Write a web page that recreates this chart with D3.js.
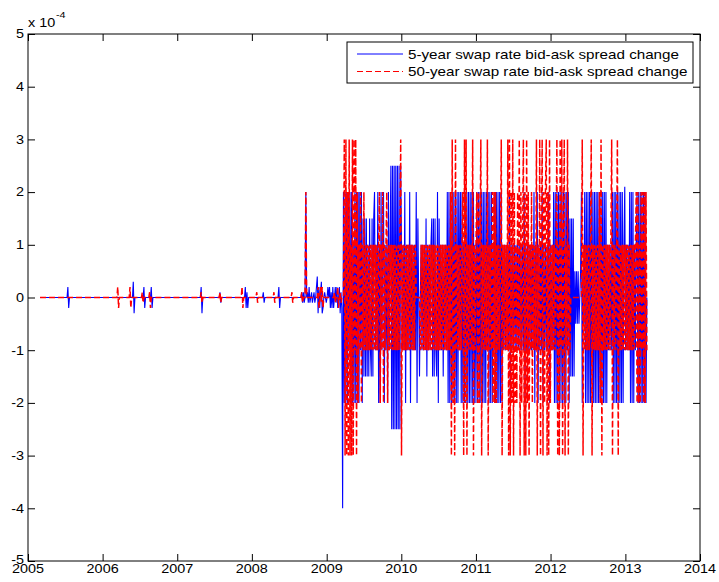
<!DOCTYPE html>
<html><head><meta charset="utf-8">
<script src="https://cdn.jsdelivr.net/npm/d3@7"></script>
<style>
body{margin:0;background:#fff}
text{font-family:"Liberation Sans",Arial,Helvetica,sans-serif;fill:#000}
</style>
</head><body>
<svg id="chart" width="719" height="582"></svg>
<script>
// ---------------- data ----------------
const seriesNames = ["5-year swap rate bid-ask spread change", "50-year swap rate bid-ask spread change"];
const xTickYears = [2005, 2006, 2007, 2008, 2009, 2010, 2011, 2012, 2013, 2014];
const yTickValues = [-5, -4, -3, -2, -1, 0, 1, 2, 3, 4, 5];   // in units of 10^-4
const yExponent = "-4";
const startDate = "2005-03-01";
const stepDays = 4;
// value codes (units of 10^-4)
const codeValues = {"0":0,"1":1,"2":2,"3":3,"4":4,"a":-1,"b":-2,"c":-3,"d":-4,
  "h":1.5,"H":-1.5,"k":2.5,"K":-2.5,"m":0.5,"M":-0.5,"w":2.1,
  "r":0.1,"R":-0.1,"s":0.2,"S":-0.2,"t":0.3,"T":-0.3,"u":0.4,"U":-0.4};

// sparse episodes before 2009 (all other days are 0)
const blueEvents = [
  ["2005-07-13", "sS"],
  ["2006-05-31", "tT"],
  ["2006-07-23", "sS"],
  ["2006-08-28", "sS"],
  ["2007-04-29", "sT"],
  ["2007-07-28", "rR"],
  ["2007-11-29", "sSrS"],
  ["2008-02-24", "rR"],
  ["2008-05-11", "sS"],
  ["2008-08-30", "rRrR020rRsR0rR0rR0suTsSrtTS0r0R0s0sSrSsS0sRsS0sTrS"]
];
const redEvents = [
  ["2006-03-16", "sS"],
  ["2006-05-14", "sS"],
  ["2006-07-14", "rR"],
  ["2006-08-20", "rS"],
  ["2007-04-26", "rR"],
  ["2007-07-28", "rR"],
  ["2007-11-12", "sS"],
  ["2008-01-23", "rR"],
  ["2008-04-18", "rR"],
  ["2008-07-13", "rR"],
  ["2008-08-30", "rR000200000000000000sS0sRsS0000000000000rR00sS0rR0"]
];

// dense period from March 2009 (one code every stepDays)
const denseStart = "2009-03-20";
const blueDense = [
  "d2b2b2b2a2","b2b1b2b2b2","b2a2bhHhHh","H1HhaHhHh2","a1a2b1b2a1",
  "2b1a1b2a1k","KkKkKkKkKk","Kk1a1a2b1a","1a2b1a1a1a","2bh0H01a1a",
  "1ahH1a1a1h","HhHhaH2bha","1a1H1a1a2b","2b2b2b2b2b","2b2a2b2b1b",
  "2b2b2b2b2b","2b1b2b2b2b","2b2b2b2a2b","2b2b1a2b2b","2b2b2b1a1a",
  "1a1a2b1a1a","1a1a1a1a1a","1a2b1a1a1a","1a1a2b1a2b","1a1a2b1a1a",
  "1a2b1a1a2b","2b2b2b2b2b","2b2b2a2bhH","hHhHmMmMmM","0m2bmM2b2b",
  "2b2b2b2b2b","2b2b2b2b2b","2b2b1a1a1a","2b2b2b2b2b","2b2b1wa1a1",
  "a2b2b2b1a1","2b2b2b2b2b","2b0"
].join("");
const redDense = [
  "003c3c2c3c","1c3c3a3c2b","1a2b1a2a1a","1a1a1a1a1a","1a1a12b1a2",
  "b1a12b1a1a","1a1a1a1a1a","13c1a1a1a1","a1a1a1a1a1","00000a1a1a",
  "1a1a1a1a1a","1a1a1a1a1a","1a1a1a1a1a","1a2c3b1c3a","1a1a1a12c3",
  "b3c1a1a1a3","c1a12b2b13","c1a1a1a3c1","a1a2b2b2b1","a1a13c1a1a",
  "1a3c3c2b3c","2b1b2a3c2b","13c2c3b2c1","a2b1a1a3c1","a3c13c2b23",
  "c2c3b1a1a1","a13c1c3a3c","13c1a3c1a0","0000000000","0003c1a1a1",
  "a1a13c1a1a","1a1a2b3c1a","1a1a1a1a13","c1a1a13c1a","1a1a1a1a1a",
  "1a1a1a1a12","b2b1b2a2b2","b2a"
].join("");

// ---------------- build series ----------------
const parse = d3.utcParse("%Y-%m-%d");
const t0 = parse(startDate);
const idxOf = s => Math.round((parse(s) - t0) / 864e5 / stepDays);
function buildSeries(events, dense) {
  const n = idxOf(denseStart) + dense.length;
  const vals = new Array(n).fill(0);
  events.forEach(([d, codes]) => {
    const i0 = idxOf(d);
    [...codes].forEach((c, k) => { if (i0 + k < n) vals[i0 + k] = codeValues[c]; });
  });
  const j0 = idxOf(denseStart);
  [...dense].forEach((c, k) => { vals[j0 + k] = codeValues[c]; });
  return vals.map((v, i) => ({date: d3.utcDay.offset(t0, i * stepDays), v: v * 1e-4}));
}
const blueSeries = buildSeries(blueEvents, blueDense);
const redSeries = buildSeries(redEvents, redDense);

// ---------------- draw ----------------
const svg = d3.select("#chart");
const L = 28, R = 700, T = 34, B = 561;
const x = d3.scaleUtc()
  .domain([Date.UTC(xTickYears[0], 0, 1), Date.UTC(xTickYears[xTickYears.length - 1], 0, 1)])
  .range([L, R]);
const y = d3.scaleLinear()
  .domain([yTickValues[0] * 1e-4, yTickValues[yTickValues.length - 1] * 1e-4])
  .range([B, T]);
const xTicks = xTickYears.map(yr => new Date(Date.UTC(yr, 0, 1)));
const yTicks = yTickValues.map(v => v * 1e-4);

svg.append("rect").attr("width", 719).attr("height", 582).attr("fill", "#fff");

const line = d3.line().x(d => x(d.date)).y(d => y(d.v));
const plot = svg.append("g");
plot.append("path").datum(blueSeries).attr("d", line)
  .attr("fill", "none").attr("stroke", "#0000ff").attr("stroke-width", 1.1);
plot.append("path").datum(redSeries).attr("d", line)
  .attr("fill", "none").attr("stroke", "#ff0000").attr("stroke-width", 1.5)
  .attr("stroke-dasharray", "6,3");

// axes (ticks inward on all four sides)
function styleAxis(g) {
  g.select(".domain").remove();
  g.selectAll(".tick line").attr("stroke", "#000").attr("stroke-width", 1);
}
svg.append("g").attr("transform", `translate(0,${B})`)
  .call(d3.axisBottom(x).tickValues(xTicks).tickSize(-7).tickFormat("")).call(styleAxis);
svg.append("g").attr("transform", `translate(0,${T})`)
  .call(d3.axisTop(x).tickValues(xTicks).tickSize(-7).tickFormat("")).call(styleAxis);
svg.append("g").attr("transform", `translate(${L},0)`)
  .call(d3.axisLeft(y).tickValues(yTicks).tickSize(-7).tickFormat("")).call(styleAxis);
svg.append("g").attr("transform", `translate(${R},0)`)
  .call(d3.axisRight(y).tickValues(yTicks).tickSize(-7).tickFormat("")).call(styleAxis);
svg.append("rect").attr("x", L).attr("y", T).attr("width", R - L).attr("height", B - T)
  .attr("fill", "none").attr("stroke", "#000").attr("stroke-width", 1);

// stretched text helper (the reference text is horizontally widened)
const SX = 1.2;
function label(px, py, str, anchor, size, sx) {
  return svg.append("text")
    .attr("transform", `translate(${px},${py}) scale(${sx},1)`)
    .attr("text-anchor", anchor).attr("font-size", size).text(str);
}
xTickYears.forEach((yr, i) => label(x(xTicks[i]), B + 11.5, String(yr), "middle", 12, SX));
yTickValues.forEach((v, i) => label(L - 4, y(yTicks[i]) + (i === 0 ? 3.3 : 4.3), String(v), "end", 12, SX));
label(L, 27, "x 10", "start", 12, SX);
label(L + 28, 18, yExponent, "start", 9, SX);

// legend
const lg = svg.append("g");
lg.append("rect").attr("x", 347).attr("y", 42).attr("width", 346).attr("height", 41)
  .attr("fill", "#fff").attr("stroke", "#000").attr("stroke-width", 1);
const legendRows = [
  {name: seriesNames[0], color: "#0000ff", dash: null, yy: 54},
  {name: seriesNames[1], color: "#ff0000", dash: "6,3", yy: 71.5}
];
legendRows.forEach(r => {
  lg.append("line").attr("x1", 357).attr("x2", 403).attr("y1", r.yy).attr("y2", r.yy)
    .attr("stroke", r.color).attr("stroke-width", 1).attr("stroke-dasharray", r.dash);
  label(408, r.yy + 4.5, r.name, "start", 13, 1.17);
});
</script>
</body></html>
